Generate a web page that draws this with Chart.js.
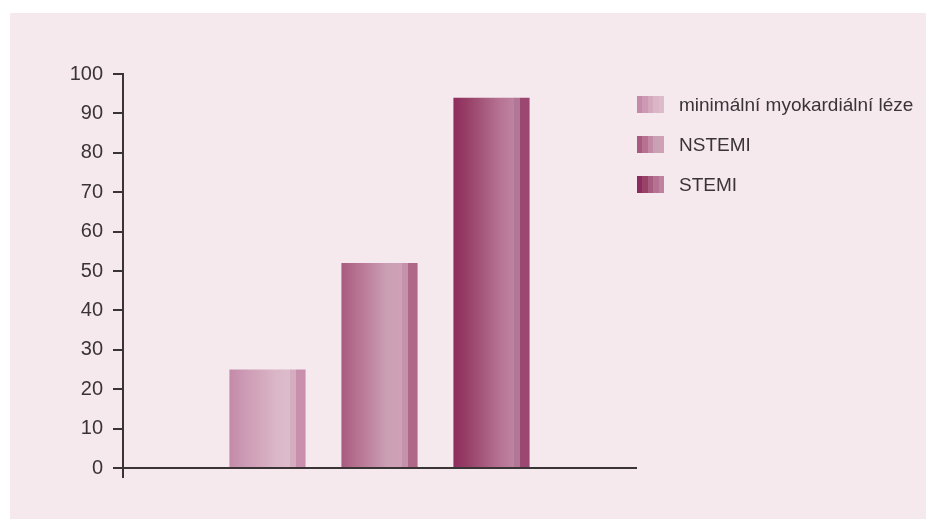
<!DOCTYPE html>
<html>
<head>
<meta charset="utf-8">
<script src="https://cdn.jsdelivr.net/npm/chart.js@4.4.1/dist/chart.umd.min.js"></script>
<style>
  html, body { margin: 0; padding: 0; background: #fff; }
  .panel {
    position: absolute; left: 10px; top: 13px;
    width: 916px; height: 506px;
    background: #f5e9ee;
  }
  .panel canvas { position: absolute; left: 0; top: 0; }
  #legend {
    position: absolute; left: 627px; top: 83px;
    margin: 0; padding: 0; list-style: none;
    font-family: "Liberation Sans", Arial, sans-serif;
    font-size: 19px; color: #3a3436;
  }
  #legend li { display: flex; align-items: center; height: 17px; margin-bottom: 23px; }
  #legend .box { width: 27px; height: 17px; margin-right: 15px; }
</style>
</head>
<body>
<div class="panel">
  <canvas id="barChart" width="916" height="506"></canvas>
  <ul id="legend"></ul>
</div>
<script>
// data
const categories = [''];
const seriesLabels = ['minimální myokardiální léze', 'NSTEMI', 'STEMI'];
const seriesValues = [25, 52, 94];

// colours across each bar, left to right: smooth part then side bands
const stripeColors = [
  ['#c48aa8', '#cc9ab4', '#d4a8bd', '#dab6c7', '#dcbccb', '#d4aec0', '#c890ac'],
  ['#a85a80', '#b6728f', '#c28aa5', '#caa0b4', '#d0a0b5', '#c492aa', '#b06888'],
  ['#8e2b5e', '#984268', '#a85c80', '#b67292', '#be82a0', '#b07894', '#9c4672']
];
const stripePos = [0, 0.2, 0.42, 0.6, 0.78];

const CAT_PCT = 0.655;
const BAR_PCT = 0.68;
const axisColor = '#3a3436';

const barGradient = (c) => {
  const chart = c.chart;
  const colors = stripeColors[c.datasetIndex];
  if (!chart.chartArea) return colors[2];
  const xs = chart.scales.x;
  const n = seriesValues.length;
  const slot = xs.width * CAT_PCT / n;
  const center = xs.getPixelForValue(0) + (c.datasetIndex - (n - 1) / 2) * slot;
  const w = slot * BAR_PCT;
  const g = chart.ctx.createLinearGradient(center - w / 2, 0, center + w / 2, 0);
  // smooth ramp up to the highlight
  for (let i = 0; i < 5; i++) g.addColorStop(stripePos[i], colors[i]);
  // hard-edged bands on the right side
  g.addColorStop(0.8, colors[4]);
  g.addColorStop(0.801, colors[5]);
  g.addColorStop(0.879, colors[5]);
  g.addColorStop(0.88, colors[6]);
  g.addColorStop(1, colors[6]);
  return g;
};

const ctx = document.getElementById('barChart').getContext('2d');
const chart = new Chart(ctx, {
  type: 'bar',
  data: {
    labels: categories,
    datasets: seriesLabels.map((label, i) => ({
      label,
      data: [seriesValues[i]],
      backgroundColor: barGradient,
      borderWidth: 0
    }))
  },
  options: {
    responsive: false,
    animation: false,
    categoryPercentage: CAT_PCT,
    barPercentage: BAR_PCT,
    layout: { padding: { top: 61, right: 290, bottom: 0, left: 0 } },
    plugins: {
      legend: { display: false },
      tooltip: { enabled: false }
    },
    scales: {
      x: {
        afterFit: (scale) => { scale.height = 51; },
        ticks: { display: false },
        grid: {
          offset: true,
          drawOnChartArea: false,
          tickLength: 10,
          lineWidth: 2,
          color: (c) => c.index === 0 ? axisColor : 'rgba(0,0,0,0)'
        },
        border: { color: axisColor, width: 2 }
      },
      y: {
        min: 0,
        max: 100,
        afterFit: (scale) => { scale.width = 113; },
        ticks: {
          stepSize: 10,
          padding: 10,
          color: '#3a3436',
          font: { family: '"Liberation Sans", Arial, sans-serif', size: 20 }
        },
        grid: {
          drawOnChartArea: false,
          tickLength: 10,
          lineWidth: 2,
          color: axisColor
        },
        border: { color: axisColor, width: 2 }
      }
    }
  }
});

// html legend built from the chart's datasets
const legendEl = document.getElementById('legend');
chart.data.datasets.forEach((ds, i) => {
  const li = document.createElement('li');
  const box = document.createElement('span');
  box.className = 'box';
  const cols = stripeColors[i].slice(0, 5);
  box.style.background = 'linear-gradient(to right, ' +
    cols.map((c, k) => `${c} ${k * 20}%, ${c} ${(k + 1) * 20}%`).join(', ') + ')';
  const text = document.createElement('span');
  text.textContent = ds.label;
  li.appendChild(box);
  li.appendChild(text);
  legendEl.appendChild(li);
});
</script>
</body>
</html>
